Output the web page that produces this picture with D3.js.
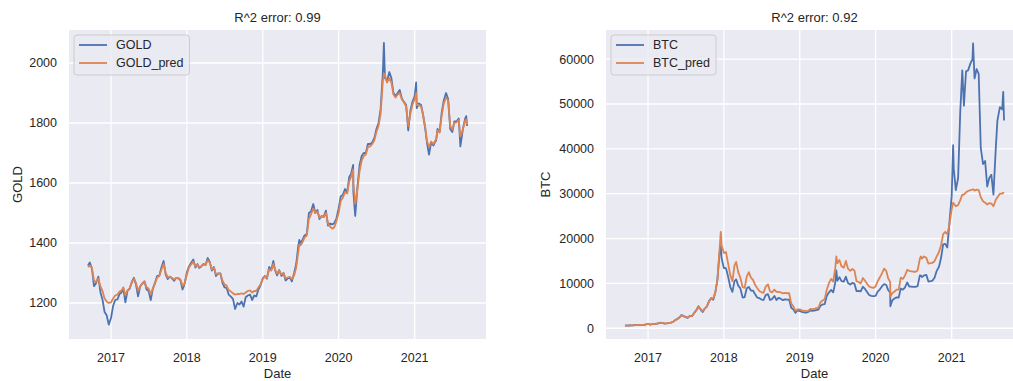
<!DOCTYPE html>
<html>
<head>
<meta charset="utf-8">
<script src="https://cdn.jsdelivr.net/npm/d3@7"></script>
<style>
  body { margin: 0; background: #fff; }
  text { font-family: "Liberation Sans", Arial, sans-serif; fill: #262626; }
</style>
</head>
<body>
<svg id="chart" width="1013" height="381"></svg>
<script>
// sample dates (roughly every 10 days, plus a few spike days)
const dates = [
  "2016-09-12","2016-09-21","2016-10-01","2016-10-11","2016-10-21","2016-11-01","2016-11-11","2016-11-21","2016-12-01","2016-12-11","2016-12-21",
  "2017-01-01","2017-01-11","2017-01-21","2017-02-01","2017-02-11","2017-02-21","2017-03-01","2017-03-11","2017-03-21","2017-04-01","2017-04-11","2017-04-21","2017-05-01","2017-05-11","2017-05-21","2017-06-01","2017-06-11","2017-06-21","2017-07-01","2017-07-11","2017-07-21","2017-08-01","2017-08-11","2017-08-21","2017-09-01","2017-09-11","2017-09-21","2017-10-01","2017-10-11","2017-10-21","2017-11-01","2017-11-11","2017-11-21","2017-12-01","2017-12-11","2017-12-17","2017-12-21",
  "2018-01-01","2018-01-11","2018-01-21","2018-02-01","2018-02-11","2018-02-21","2018-03-01","2018-03-11","2018-03-21","2018-04-01","2018-04-11","2018-04-21","2018-05-01","2018-05-11","2018-05-21","2018-06-01","2018-06-11","2018-06-21","2018-07-01","2018-07-11","2018-07-21","2018-08-01","2018-08-11","2018-08-21","2018-09-01","2018-09-11","2018-09-21","2018-10-01","2018-10-11","2018-10-21","2018-11-01","2018-11-11","2018-11-21","2018-12-01","2018-12-11","2018-12-21",
  "2019-01-01","2019-01-11","2019-01-21","2019-02-01","2019-02-11","2019-02-21","2019-03-01","2019-03-11","2019-03-21","2019-04-01","2019-04-11","2019-04-21","2019-05-01","2019-05-11","2019-05-21","2019-06-01","2019-06-11","2019-06-21","2019-06-26","2019-07-01","2019-07-11","2019-07-21","2019-08-01","2019-08-11","2019-08-21","2019-09-01","2019-09-11","2019-09-21","2019-10-01","2019-10-11","2019-10-21","2019-11-01","2019-11-11","2019-11-21","2019-12-01","2019-12-11","2019-12-21",
  "2020-01-01","2020-01-11","2020-01-21","2020-02-01","2020-02-11","2020-02-21","2020-03-01","2020-03-11","2020-03-12","2020-03-21","2020-04-01","2020-04-11","2020-04-21","2020-05-01","2020-05-11","2020-05-21","2020-06-01","2020-06-11","2020-06-21","2020-07-01","2020-07-11","2020-07-21","2020-08-01","2020-08-06","2020-08-11","2020-08-21","2020-09-01","2020-09-11","2020-09-21","2020-10-01","2020-10-11","2020-10-21","2020-11-01","2020-11-11","2020-11-21","2020-12-01","2020-12-11","2020-12-21",
  "2021-01-01","2021-01-08","2021-01-11","2021-01-21","2021-02-01","2021-02-11","2021-02-21","2021-03-01","2021-03-11","2021-03-21","2021-04-01","2021-04-11","2021-04-14","2021-04-21","2021-05-01","2021-05-11","2021-05-21","2021-06-01","2021-06-11","2021-06-21","2021-07-01","2021-07-11","2021-07-21","2021-08-01","2021-08-09","2021-08-21","2021-09-01","2021-09-06","2021-09-10"
];

const gold = [
  1325,1335,1315,1256,1266,1288,1236,1211,1170,1159,1128,
  1150,1190,1210,1212,1230,1235,1250,1202,1240,1248,1270,1284,1262,1222,1255,1265,1272,1245,1240,1210,1247,1268,1290,1290,1320,1340,1295,1280,1288,1282,1274,1284,1282,1276,1245,1255,1265,
  1302,1322,1333,1345,1318,1330,1317,1322,1330,1327,1350,1337,1308,1320,1290,1299,1299,1268,1252,1250,1228,1221,1213,1180,1200,1195,1205,1188,1219,1225,1228,1210,1225,1222,1245,1258,
  1282,1290,1281,1320,1310,1340,1310,1292,1310,1290,1300,1275,1282,1285,1272,1300,1330,1390,1410,1400,1410,1425,1430,1500,1505,1530,1500,1510,1480,1490,1487,1508,1458,1465,1462,1466,1480,
  1515,1555,1560,1580,1568,1620,1630,1660,1570,1490,1590,1660,1690,1700,1700,1730,1730,1735,1750,1780,1800,1845,1970,2067,1950,1940,1970,1950,1900,1890,1900,1910,1880,1870,1860,1775,1840,1870,
  1890,1935,1850,1865,1860,1825,1780,1735,1695,1735,1725,1740,1740,1780,1770,1835,1875,1900,1880,1780,1770,1805,1805,1815,1722,1780,1815,1823,1790
];

const goldPred = [
  1320,1325,1318,1275,1270,1282,1255,1240,1215,1205,1200,
  1202,1215,1225,1228,1238,1242,1252,1225,1242,1250,1268,1280,1268,1240,1255,1265,1272,1252,1248,1228,1248,1265,1285,1290,1312,1330,1300,1285,1288,1284,1278,1284,1283,1278,1258,1260,1265,
  1295,1318,1328,1338,1322,1328,1320,1322,1328,1327,1342,1335,1312,1318,1296,1298,1298,1275,1262,1258,1243,1238,1232,1228,1230,1230,1232,1230,1235,1240,1242,1235,1240,1240,1252,1262,
  1280,1288,1283,1312,1308,1330,1312,1298,1308,1295,1300,1282,1285,1287,1280,1292,1318,1370,1395,1392,1402,1418,1425,1480,1495,1515,1500,1505,1485,1488,1486,1500,1465,1455,1448,1452,1472,
  1500,1540,1550,1570,1565,1605,1620,1645,1600,1530,1580,1640,1675,1690,1695,1720,1722,1730,1742,1770,1790,1830,1940,1965,1960,1935,1950,1935,1895,1885,1895,1900,1878,1868,1855,1790,1830,1860,
  1880,1900,1860,1860,1855,1825,1785,1740,1720,1738,1730,1742,1745,1775,1768,1825,1865,1885,1875,1790,1778,1800,1802,1810,1755,1778,1808,1812,1795
];

const btc = [
  608,597,615,640,632,730,715,738,753,770,830,
  998,780,925,985,1000,1120,1220,1195,1040,1080,1210,1260,1420,1820,2040,2410,2960,2700,2490,2320,2750,2720,3420,4000,4900,4150,3630,4390,4820,6000,6750,6360,8100,10900,16700,18500,15600,
  13400,13400,11600,9170,8100,10500,10900,9500,8900,6850,6950,8900,9200,8400,8400,7500,6800,6700,6400,6300,7400,7600,6300,6500,7200,6300,6750,6600,6250,6420,6380,6400,4550,4200,3440,3970,
  3840,3650,3540,3490,3620,3980,3850,3920,4050,4150,5050,5300,5400,7200,7950,8550,8000,10200,12900,10600,11400,10500,10400,11500,10100,9750,10100,9950,8300,8300,8230,9250,8760,8100,7420,7220,7150,
  7200,8180,8630,9380,9850,9700,8560,7900,4900,6200,6640,6870,6850,8860,8600,9080,10200,9300,9300,9230,9240,9380,11800,11750,11400,11800,11900,10400,10500,10620,11300,12800,13700,15700,18700,18800,18000,23500,
  29400,40800,35500,30800,33500,47900,57500,49600,57300,57500,59000,60000,63500,55700,57800,56700,40200,36600,37300,31600,33500,34200,29800,39900,46300,49300,48800,52700,46300
];

const btcPred = [
  600,600,610,630,640,700,720,735,750,770,820,
  950,850,900,970,1000,1090,1180,1200,1080,1090,1190,1250,1400,1750,2000,2350,2850,2750,2550,2400,2700,2750,3350,3950,4800,4300,3800,4350,4800,5900,6700,6600,8000,10800,17500,21500,18500,
  16800,17000,14500,11800,10500,14000,14800,12500,11300,9200,9000,11500,12500,11300,10800,9600,8900,8300,8000,7900,9300,9800,8200,8000,8600,8100,8100,8000,7800,7900,7800,7800,5500,4900,3900,4200,
  4200,4000,3900,3800,3900,4300,4200,4300,4500,4600,5800,6200,6500,8600,10000,11000,10400,13500,16000,14500,15200,13800,13500,15000,13300,12800,13200,12900,10500,10300,10000,11200,10600,9900,9300,9100,9000,
  9300,10500,11300,12300,13300,12800,11200,10300,7000,7800,8200,8600,8600,11300,11000,11700,13000,12800,12700,12600,12600,12900,15500,16000,15500,16000,15700,14400,14500,14600,15000,16000,17000,18500,21000,21500,21000,23000,
  26500,28000,27800,27200,27500,28500,29800,29800,30300,30600,30800,30900,31000,30700,30900,30800,29200,28300,28000,27600,27900,27800,27200,28600,29200,30000,30000,30200,30100
];

const yearTicks = ["2017-01-01","2018-01-01","2019-01-01","2020-01-01","2021-01-01"];
const goldTicks = [1200, 1400, 1600, 1800, 2000];
const btcTicks = [0, 10000, 20000, 30000, 40000, 50000, 60000];

const parse = d3.timeParse("%Y-%m-%d");
const dateObjs = dates.map(parse);

const svg = d3.select("#chart");
const blue = "#4c72b0";
const orange = "#dd8452";

const plotTop = 30, plotH = 309, plotW = 417;

function drawPanel(cfg) {
  const x0 = cfg.left;
  const ext = d3.extent(dateObjs);
  const span = ext[1] - ext[0];
  const x = d3.scaleTime()
    .domain([new Date(+ext[0] - span * 0.05), new Date(+ext[1] + span * 0.05)])
    .range([x0, x0 + plotW]);
  const y = d3.scaleLinear().domain(cfg.yDomain).range([plotTop + plotH, plotTop]);

  const g = svg.append("g");
  g.append("rect")
    .attr("x", x0).attr("y", plotTop)
    .attr("width", plotW).attr("height", plotH)
    .attr("fill", "#eaeaf2");

  // grid
  g.selectAll(".xg").data(yearTicks.map(parse)).enter().append("line")
    .attr("x1", (d) => x(d)).attr("x2", (d) => x(d))
    .attr("y1", plotTop).attr("y2", plotTop + plotH)
    .attr("stroke", "#fff").attr("stroke-width", 1.3);
  g.selectAll(".yg").data(cfg.yTicks).enter().append("line")
    .attr("x1", x0).attr("x2", x0 + plotW)
    .attr("y1", (d) => y(d)).attr("y2", (d) => y(d))
    .attr("stroke", "#fff").attr("stroke-width", 1.3);

  // tick labels
  g.selectAll(".xl").data(yearTicks.map(parse)).enter().append("text")
    .attr("x", (d) => x(d)).attr("y", 362)
    .attr("text-anchor", "middle").attr("font-size", 12.5)
    .text(d3.timeFormat("%Y"));
  g.selectAll(".yl").data(cfg.yTicks).enter().append("text")
    .attr("x", x0 - 12).attr("y", (d) => y(d)).attr("dy", "0.35em")
    .attr("text-anchor", "end").attr("font-size", 12.5)
    .text((d) => d);

  // lines
  const clipId = "clip" + cfg.name;
  g.append("clipPath").attr("id", clipId).append("rect")
    .attr("x", x0).attr("y", plotTop).attr("width", plotW).attr("height", plotH);
  const line = d3.line().x((d, i) => x(dateObjs[i])).y((d) => y(d));
  g.append("path").datum(cfg.actual)
    .attr("d", line).attr("fill", "none")
    .attr("stroke", blue).attr("stroke-width", 1.8)
    .attr("stroke-linejoin", "round")
    .attr("clip-path", `url(#${clipId})`);
  g.append("path").datum(cfg.pred)
    .attr("d", line).attr("fill", "none")
    .attr("stroke", orange).attr("stroke-width", 1.8)
    .attr("stroke-linejoin", "round")
    .attr("clip-path", `url(#${clipId})`);

  // titles and labels
  g.append("text")
    .attr("x", x0 + plotW / 2).attr("y", 21.5)
    .attr("text-anchor", "middle").attr("font-size", 13)
    .text(cfg.title);
  g.append("text")
    .attr("x", x0 + plotW / 2).attr("y", 378)
    .attr("text-anchor", "middle").attr("font-size", 13)
    .text("Date");
  g.append("text")
    .attr("transform", `translate(${cfg.yLabelX},${plotTop + plotH / 2}) rotate(-90)`)
    .attr("text-anchor", "middle").attr("font-size", 13)
    .text(cfg.name);

  // legend
  const lg = g.append("g").attr("transform", `translate(${x0 + 5},${plotTop + 5})`);
  const box = lg.append("rect")
    .attr("height", 40).attr("rx", 3)
    .attr("fill", "#eaeaf2").attr("fill-opacity", 0.8)
    .attr("stroke", "#cccccc").attr("stroke-width", 1);
  const items = [[cfg.name, blue], [cfg.name + "_pred", orange]];
  let maxW = 0;
  items.forEach(([label, color], i) => {
    const cy = 10 + i * 18;
    lg.append("line")
      .attr("x1", 5).attr("x2", 33).attr("y1", cy).attr("y2", cy)
      .attr("stroke", color).attr("stroke-width", 1.8);
    const t = lg.append("text")
      .attr("x", 42).attr("y", cy).attr("dy", "0.35em")
      .attr("font-size", 12.5).text(label);
    maxW = Math.max(maxW, t.node().getComputedTextLength());
  });
  box.attr("width", 42 + maxW + 6);
}

drawPanel({
  name: "GOLD", left: 69, title: "R^2 error: 0.99",
  actual: gold, pred: goldPred,
  yDomain: [1080, 2110], yTicks: goldTicks, yLabelX: 21.5
});

drawPanel({
  name: "BTC", left: 606, title: "R^2 error: 0.92",
  actual: btc, pred: btcPred,
  yDomain: [-2400, 66500], yTicks: btcTicks, yLabelX: 550
});
</script>
</body>
</html>
